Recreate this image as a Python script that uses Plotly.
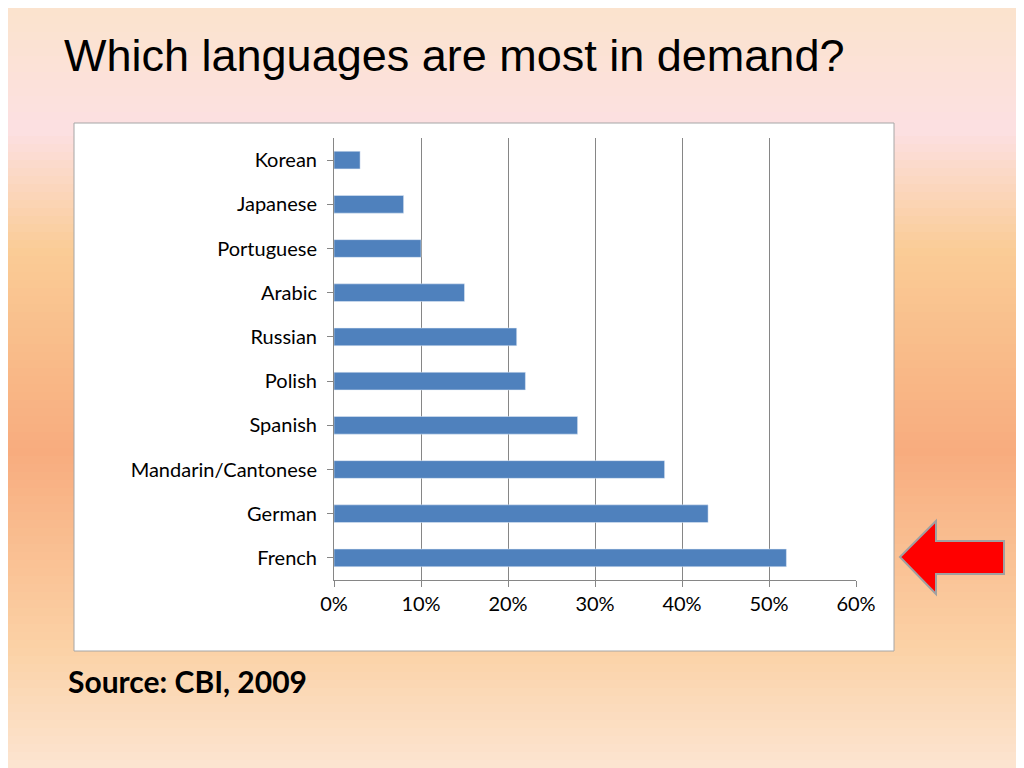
import plotly.graph_objects as go

# data
languages = ["French", "German", "Mandarin/Cantonese", "Spanish", "Polish",
             "Russian", "Arabic", "Portuguese", "Japanese", "Korean"]
demand = [0.52, 0.43, 0.38, 0.28, 0.22, 0.21, 0.15, 0.10, 0.08, 0.03]
tick_vals = [0, 0.1, 0.2, 0.3, 0.4, 0.5, 0.6]
tick_text = ["0%", "10%", "20%", "30%", "40%", "50%", "60%"]

W, H = 1024, 768


def px_x(v):
    return (v - 334) / (856 - 334)


def px_y(v):
    return (580 - v) / (580 - 138)


fig = go.Figure(go.Bar(
    x=demand, y=languages, orientation="h",
    marker_color="#4F81BD", width=0.4,
))

# slide background gradient (top -> bottom, in screen pixels)
stops = [(-20, (251, 228, 200)), (130, (252, 224, 226)), (250, (250, 204, 150)),
         (450, (248, 172, 126)), (650, (251, 210, 166)), (790, (252, 232, 218))]
shapes = []
step = 8
for y0 in range(-16, 784, step):
    yc = y0 + step / 2
    c = stops[-1][1]
    for (a, ca), (b, cb) in zip(stops, stops[1:]):
        if a <= yc <= b:
            t = (yc - a) / (b - a)
            c = tuple(round(ca[i] + (cb[i] - ca[i]) * t) for i in range(3))
            break
    shapes.append(dict(type="rect", xref="paper", yref="paper", layer="below",
                       x0=-1, x1=2, y0=px_y(y0 + step + 1), y1=px_y(y0),
                       line_width=0, fillcolor=f"rgb{c}"))

# white chart box
shapes.append(dict(type="rect", xref="paper", yref="paper", layer="below",
                   x0=px_x(74), x1=px_x(894), y0=px_y(651), y1=px_y(123),
                   fillcolor="white", line=dict(color="#A6A6A6", width=1)))

# red arrow pointing at French
pts = [(900, 557), (936, 521), (936, 541), (1004, 541), (1004, 574), (936, 574), (936, 594)]
path = "M " + " L ".join(f"{px_x(x)},{px_y(y)}" for x, y in pts) + " Z"
shapes.append(dict(type="path", xref="paper", yref="paper", path=path,
                   fillcolor="#FF0000", line=dict(color="#A0A0A0", width=2)))

# page has an 8px body offset, so margins are shifted by 8
fig.update_layout(
    width=W, height=H,
    margin=dict(l=326, r=176, t=130, b=196),
    paper_bgcolor="rgba(0,0,0,0)", plot_bgcolor="rgba(0,0,0,0)",
    shapes=shapes,
    showlegend=False,
    bargap=0.6,
    font=dict(family="Lato, Noto Sans, sans-serif", size=20, color="#000000"),
)
fig.update_xaxes(range=[0, 0.6], tickvals=tick_vals, ticktext=tick_text,
                 showgrid=True, gridcolor="#868686", gridwidth=1,
                 zeroline=False, showline=True, linecolor="#868686",
                 ticks="outside", ticklen=6, tickcolor="#868686")
fig.update_yaxes(showline=True, linecolor="#868686", ticks="outside",
                 ticklen=6, tickcolor="#868686", ticklabelstandoff=6)

fig.add_annotation(text="Which languages are most in demand?", xref="paper", yref="paper",
                   x=px_x(62), y=px_y(55), xanchor="left", yanchor="middle",
                   showarrow=False,
                   font=dict(family="Liberation Sans, Arial", size=45, color="#000"))
fig.add_annotation(text="<b>Source: CBI, 2009</b>", xref="paper", yref="paper",
                   x=px_x(66), y=px_y(681), xanchor="left", yanchor="middle",
                   showarrow=False,
                   font=dict(family="Lato, Noto Sans", size=30, color="#000"))

fig.write_html("out.html")
